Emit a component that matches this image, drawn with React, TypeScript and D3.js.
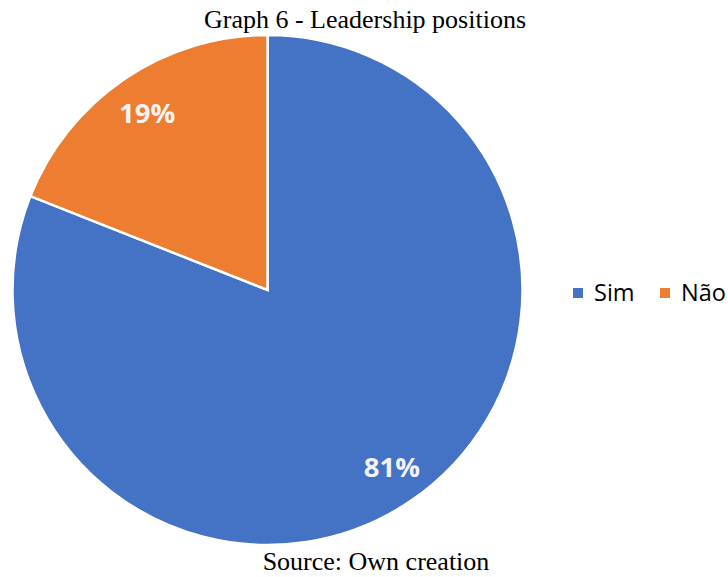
import React from "react";
import * as d3 from "d3";

const categories = ["Sim", "Não"];
const values = [81, 19];
const labels = ["81%", "19%"];
const colors = ["#4472C4", "#ED7D31"];

export default function App() {
  const width = 728;
  const height = 577;
  const cx = 267.5;
  const cy = 290;
  const r = 255;

  const pie = d3.pie<number>().sort(null).value((d) => d);
  const arcs = pie(values);
  const arcGen = d3.arc<d3.PieArcDatum<number>>().innerRadius(0).outerRadius(r);
  const labelArc = d3.arc<d3.PieArcDatum<number>>().innerRadius(r * 0.84).outerRadius(r * 0.84);

  const legendX = [573, 660];

  return (
    <svg
      width={width}
      height={height}
      style={{ position: "absolute", left: 0, top: 0, background: "#fff" }}
    >
      <text
        x={365}
        y={28}
        textAnchor="middle"
        fontFamily="'Liberation Serif', 'Times New Roman', serif"
        fontSize={26}
        fill="#000"
      >
        Graph 6 - Leadership positions
      </text>
      <g transform={`translate(${cx},${cy})`}>
        {arcs.map((a, i) => (
          <path key={i} d={arcGen(a) || ""} fill={colors[i]} stroke="#fff" strokeWidth={2.5} />
        ))}
        {arcs.map((a, i) => {
          const [x, y] = labelArc.centroid(a);
          return (
            <text
              key={"l" + i}
              x={x + (i === 0 ? 4 : 0)}
              y={y}
              dy="0.36em"
              textAnchor="middle"
              fontFamily="'Open Sans', 'Noto Sans', sans-serif"
              fontWeight="bold"
              fontSize={27.5}
              fill="#F2F2F2"
            >
              {labels[i]}
            </text>
          );
        })}
      </g>
      <g>
        {categories.map((c, i) => {
          const x0 = legendX[i];
          return (
            <g key={c}>
              <rect x={x0} y={288} width={10} height={10} fill={colors[i]} />
              <text
                x={x0 + 21}
                y={300.5}
                fontFamily="'Open Sans', 'Noto Sans', sans-serif"
                fontSize={23.5}
                fill="#000"
              >
                {c}
              </text>
            </g>
          );
        })}
      </g>
      <text
        x={376}
        y={570}
        textAnchor="middle"
        fontFamily="'Liberation Serif', 'Times New Roman', serif"
        fontSize={26}
        fill="#000"
      >
        Source: Own creation
      </text>
    </svg>
  );
}
